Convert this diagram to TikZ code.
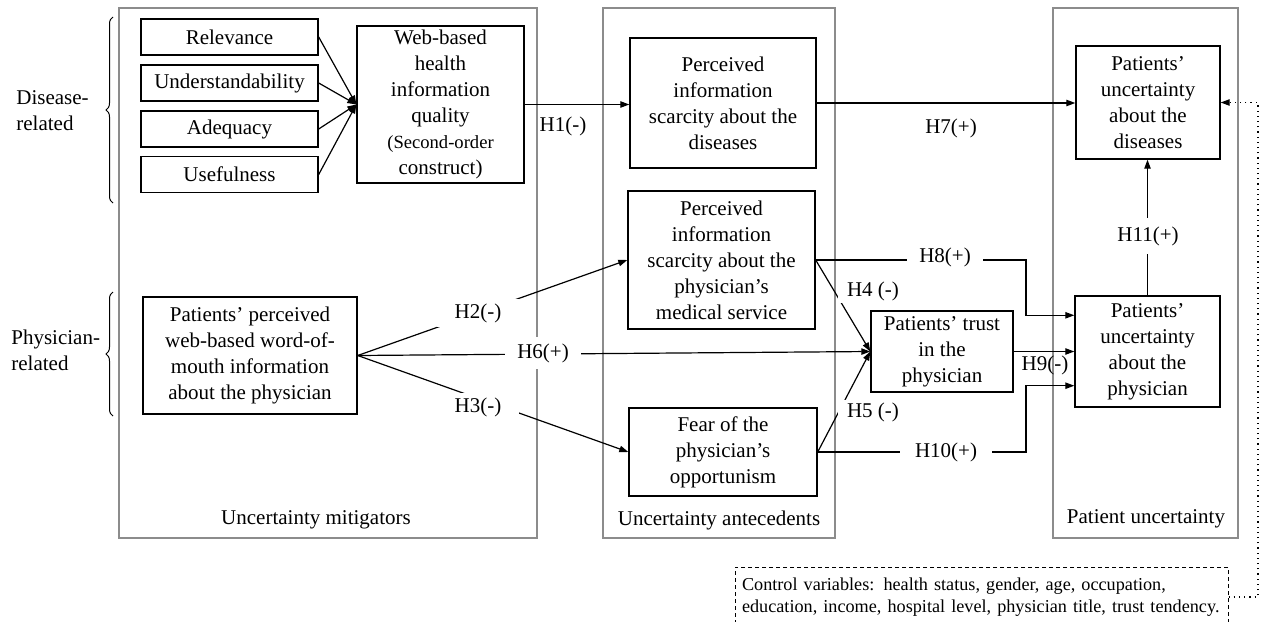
\documentclass[tikz,border=0pt]{standalone}
\usepackage{fontspec}
\setmainfont{Liberation Serif}
\usetikzlibrary{arrows.meta, positioning, decorations.pathreplacing}

\begin{document}
\begin{tikzpicture}[
    x=0.5pt, y=-0.5pt,
    font=\fontsize{10.5}{13}\selectfont,
    box/.style={rectangle, draw=black, line width=0.7pt, align=center, inner sep=1pt},
    panel/.style={draw=black!45, line width=0.6pt},
    arrow/.style={-{Triangle[length=4.5pt, width=3.2pt]}, line width=0.6pt},
    hlab/.style={fill=white, inner xsep=6pt, inner ysep=2pt},
    side/.style={align=left, inner sep=0pt, anchor=west},
    grp/.style={decorate, decoration={brace, amplitude=3.5pt}, line width=0.5pt}
]
\useasboundingbox (0,0) rectangle (1263,621);

% Panels
\draw[panel] (119,8) rectangle (537,538);
\draw[panel] (603,8) rectangle (835,538);
\draw[panel] (1053,8) rectangle (1238,538);
\node (mitig) at (316,520) {Uncertainty mitigators};
\node (antec) at (719,520) {Uncertainty antecedents};
\node (unc) at (1146,519) {Patient uncertainty};

% Groups
\draw[grp] (113,203) -- (113,17);
\draw[grp] (113,416) -- (113,292);
\node[side] (dis) at (16,111) {Disease-\\related};
\node[side] (phy) at (11,350) {Physician-\\related};

% Uncertainty mitigators
\node[box, minimum width=88.5pt, minimum height=18pt] (rel) at (229.5,37) {Relevance};
\node[box, minimum width=88.5pt, minimum height=18pt] (und) at (229.5,83) {Understandability};
\node[box, minimum width=88.5pt, minimum height=18pt] (ade) at (229.5,129) {Adequacy};
\node[box, minimum width=88.5pt, minimum height=18pt] (use) at (229.5,174.5) {Usefulness};
\node[box, minimum width=83.5pt, minimum height=78.5pt] (whq) at (440.5,104.5) {
    Web-based\\health\\information\\quality\\
    \fontsize{9.3}{11}\selectfont(Second-order\\construct)};
\node[box, minimum width=107pt, minimum height=58.5pt] (wom) at (250,355.5) {
    Patients’ perceived\\web-based word-of-\\mouth information\\about the physician};

% Uncertainty antecedents
\node[box, minimum width=93pt, minimum height=65pt] (pisd) at (723,103) {
    Perceived\\information\\scarcity about the\\diseases};
\node[box, minimum width=93.5pt, minimum height=69pt] (pisp) at (721.5,260) {
    Perceived\\information\\scarcity about the\\physician’s\\medical service};
\node[box, minimum width=94pt, minimum height=44pt] (fear) at (723,452) {
    Fear of the\\physician’s\\opportunism};
\node[box, minimum width=71pt, minimum height=40.5pt] (trust) at (942,351.5) {
    Patients’ trust\\in the\\physician};

% Patient uncertainty
\node[box, minimum width=72pt, minimum height=56.5pt] (pud) at (1148,102.5) {
    Patients’\\uncertainty\\about the\\diseases};
\node[box, minimum width=72.5pt, minimum height=55.5pt] (pup) at (1147.5,351.5) {
    Patients’\\uncertainty\\about the\\physician};

% Control variables
\node[draw, dash pattern=on 2pt off 1.5pt, line width=0.5pt, minimum width=246.5pt,
      minimum height=30pt, text width=239.5pt, inner xsep=3.5pt, align=left,
      font=\fontsize{9.1}{11}\selectfont] (ctrl) at (981.5,597) {
    \mbox{Control variables: health status, gender, age, occupation,}\\
    \mbox{education, income, hospital level, physician title, trust tendency.}};

% Arrows
\foreach \n in {rel, und, ade, use}
    \draw[arrow] (\n.east) -- (whq.west);
\draw[arrow] (whq.east) -- (whq.east -| pisd.west);
\draw[arrow] (pisd.east) -- (pisd.east -| pud.west);
\draw[arrow] (wom.east) -- (pisp.west);
\draw[arrow] (wom.east) -- (trust.west);
\draw[arrow] (wom.east) -- (fear.west);
\draw[arrow] (pisp.east) -- (trust.west);
\draw[arrow] (fear.east) -- (trust.west);
\coordinate (elbow) at (1026,0);
\draw[arrow] (pisp.east) -- (pisp.east -| elbow) |- ([yshift=-10pt]pup.north west);
\draw[arrow] (trust.east) -- (trust.east -| pup.west);
\draw[arrow] (fear.east) -- (fear.east -| elbow) |- ([yshift=11pt]pup.south west);
\draw[arrow] (pup.north) -- (pup.north |- pud.south);
\coordinate (ctrlx) at (1258,597);
\draw[arrow, dotted] (ctrl.east) -- (ctrlx) |- (pud.east);

% Hypotheses
\node (h1) at (563,126) {H1(-)};
\node (h7) at (951,128) {H7(+)};
\node[hlab, inner xsep=9pt] (h2) at (478,313) {H2(-)};
\node[hlab, inner xsep=9pt] (h3) at (478,407) {H3(-)};
\node[hlab, inner ysep=3pt] (h6) at (543,353) {H6(+)};
\node[hlab, inner xsep=4.5pt, inner ysep=1pt] (h4) at (873,291) {H4 (-)};
\node[hlab, inner xsep=4.5pt, inner ysep=1pt] (h5) at (873,412) {H5 (-)};
\node[hlab] (h8) at (945,257) {H8(+)};
\node[hlab, inner xsep=7.5pt] (h10) at (946,452) {H10(+)};
\node (h9) at (1045,365) {H9(-)};
\node[hlab, inner xsep=2pt, inner ysep=4pt] (h11) at (1148,236) {H11(+)};

\end{tikzpicture}
\end{document}
